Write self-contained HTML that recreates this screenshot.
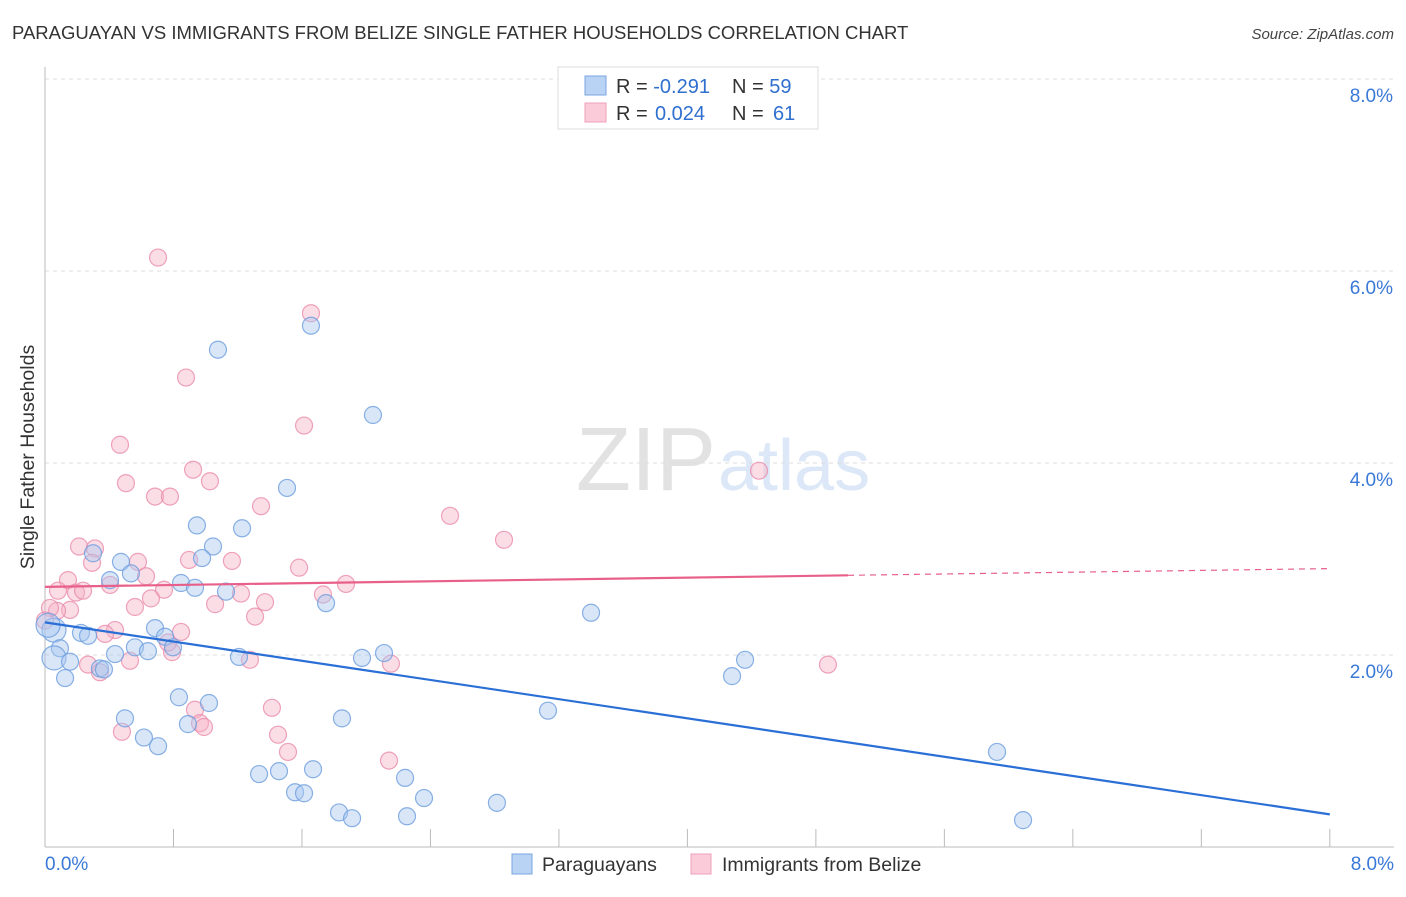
<!DOCTYPE html>
<html><head><meta charset="utf-8">
<style>
body{margin:0;background:#fff;font-family:"Liberation Sans",sans-serif;}
svg text{font-family:"Liberation Sans",sans-serif;}
</style></head>
<body>
<svg width="1406" height="892" viewBox="0 0 1406 892" xmlns="http://www.w3.org/2000/svg">
<text x="12" y="39" font-size="18.5" fill="#333">PARAGUAYAN VS IMMIGRANTS FROM BELIZE SINGLE FATHER HOUSEHOLDS CORRELATION CHART</text>
<text x="1394" y="39" font-size="15" fill="#444" text-anchor="end" font-style="italic">Source: ZipAtlas.com</text>
<text x="716" y="490" font-size="90" fill="#e2e2e2" text-anchor="end" font-family="Liberation Serif">ZIP</text>
<text x="718" y="490" font-size="72" fill="#dce8f7">atlas</text>
<g id="grid"></g>
<g id="axes"></g>
<g id="pts"></g>
<g id="trends"></g>
<text transform="translate(34,457) rotate(-90)" font-size="19.5" fill="#333" text-anchor="middle">Single Father Households</text>
<g>
<rect x="558" y="67" width="260" height="62" fill="#fff" stroke="#ddd"/>
<rect x="585" y="76" width="21" height="19" fill="#b9d3f5" stroke="#7aa6e0"/>
<rect x="585" y="103" width="21" height="19" fill="#fbcbd9" stroke="#eea0b8"/>
<text x="616" y="93" font-size="20" fill="#333">R = <tspan fill="#2f6fcf">-0.291</tspan><tspan x="732">N = </tspan><tspan fill="#2f6fcf">59</tspan></text>
<text x="616" y="120" font-size="20" fill="#333">R = <tspan fill="#2f6fcf" x="655">0.024</tspan><tspan x="732">N = </tspan><tspan fill="#2f6fcf" x="773">61</tspan></text>
</g>
<g>
<rect x="512" y="854" width="20" height="20" fill="#b9d3f5" stroke="#7aa6e0"/>
<text x="542" y="871" font-size="19.5" fill="#333">Paraguayans</text>
<rect x="691" y="854" width="20" height="20" fill="#fbcbd9" stroke="#eea0b8"/>
<text x="722" y="871" font-size="19.5" fill="#333">Immigrants from Belize</text>
</g>
</svg>
<script>
const xTicks=[0,0.8,1.6,2.4,3.2,4,4.8,5.6,6.4,7.2,8];
const yTicks=[2,4,6,8];
const yTickLabels=["2.0%","4.0%","6.0%","8.0%"];
const xTickLabels=["0.0%","8.0%"];
const blueX=[1.656,1.077,2.042,1.507,0.946,1.227,1.046,0.978,0.299,0.473,0.535,0.405,0.847,0.934,1.127,1.750,3.400,0.685,0.224,0.268,0.747,0.056,0.019,0.093,0.560,0.436,0.641,0.797,1.208,2.111,1.974,4.359,0.056,0.156,0.342,0.367,0.125,4.278,0.834,1.021,0.498,1.849,3.132,0.890,0.616,0.704,5.928,1.333,1.457,1.669,2.242,1.557,1.613,2.360,2.814,1.831,1.912,2.254,6.090];
const blueY=[5.43,5.18,4.50,3.74,3.35,3.32,3.13,3.01,3.06,2.97,2.85,2.78,2.75,2.70,2.66,2.54,2.44,2.28,2.23,2.20,2.19,2.26,2.31,2.07,2.08,2.01,2.04,2.08,1.98,2.02,1.97,1.95,1.97,1.93,1.86,1.85,1.76,1.78,1.56,1.50,1.34,1.34,1.42,1.28,1.14,1.05,0.99,0.76,0.79,0.81,0.72,0.57,0.56,0.51,0.46,0.36,0.30,0.32,0.28];
const pinkX=[0.704,1.656,0.878,1.613,0.467,0.922,4.446,0.504,1.027,0.685,0.778,1.345,2.522,2.858,0.212,0.311,0.897,1.164,0.579,0.293,1.582,0.629,0.143,1.874,0.405,0.081,0.741,0.193,0.237,1.220,1.731,0.660,1.370,1.059,0.560,0.156,0.075,0.031,1.308,0,0.847,0.436,0.374,0.791,0.268,1.276,4.875,2.154,0.342,0.529,0.934,1.413,0.965,0.990,1.451,0.479,1.513,2.142,0.766];
const pinkY=[6.14,5.56,4.89,4.39,4.19,3.93,3.92,3.79,3.81,3.65,3.65,3.55,3.45,3.20,3.13,3.11,2.99,2.98,2.97,2.96,2.91,2.82,2.78,2.74,2.73,2.67,2.68,2.65,2.67,2.64,2.63,2.59,2.55,2.53,2.50,2.47,2.46,2.49,2.40,2.36,2.24,2.26,2.22,2.03,1.90,1.95,1.90,1.91,1.82,1.94,1.43,1.45,1.29,1.25,1.17,1.20,0.99,0.90,2.13];
const blueTrend=[[0,2.34],[8,0.34]];
const pinkTrend=[[0,2.71],[5,2.83],[8,2.9]];
const X=v=>45+v*160.6, Y=v=>847-v*96;
const NS="http://www.w3.org/2000/svg";
function mk(p,t,a){const e=document.createElementNS(NS,t);for(const k in a)e.setAttribute(k,a[k]);p.appendChild(e);return e;}
const grid=document.getElementById('grid'),axes=document.getElementById('axes'),pts=document.getElementById('pts'),tr=document.getElementById('trends');
yTicks.forEach((t,i)=>{
 const l=mk(grid,'line',{x1:45,x2:1394,y1:Y(t),y2:Y(t),stroke:'#ddd','stroke-dasharray':'4,4'});
 
 
 const tx=mk(axes,'text',{x:1393,y:Y(t)+23,'font-size':19,fill:'#3a78d8','text-anchor':'end'});
 tx.textContent=yTickLabels[i];
 
 
});
const ax=mk(axes,'line',{x1:45,x2:1394,y1:847,y2:847,stroke:'#bbb'});


const ay=mk(axes,'line',{x1:45,x2:45,y1:67,y2:847,stroke:'#bbb'});


xTicks.forEach(t=>{const l=mk(axes,'line',{x1:X(t),x2:X(t),y1:829,y2:847,stroke:'#bbb'});
 
 });
[[0,'start',45],[8,'end',1394]].forEach((d,i)=>{const tx=mk(axes,'text',{x:d[2],y:870,'font-size':19,fill:'#3a78d8','text-anchor':d[1]});tx.textContent=xTickLabels[i];
 
 });
function dots(xs,ys,fill,stroke,name){xs.forEach((x,i)=>{const r=(x<0.07&&(ys[i]<2.35&&ys[i]>1.9))?12:8.5;
 const c=mk(pts,'circle',{cx:X(x),cy:Y(ys[i]),r:r,fill:fill,'fill-opacity':0.45,stroke:stroke,'stroke-width':1.2,'stroke-opacity':0.8});
 
 });}
dots(pinkX,pinkY,'#f7b3c7','#ea8cab','point-belize');
dots(blueX,blueY,'#a9c8f0','#6d9ddf','point-paraguayan');
const bl=mk(tr,'line',{x1:X(blueTrend[0][0]),y1:Y(blueTrend[0][1]),x2:X(blueTrend[1][0]),y2:Y(blueTrend[1][1]),stroke:'#2a6fd6','stroke-width':2.2});


const pl=mk(tr,'line',{x1:X(pinkTrend[0][0]),y1:Y(pinkTrend[0][1]),x2:X(pinkTrend[1][0]),y2:Y(pinkTrend[1][1]),stroke:'#e8608a','stroke-width':2.2});


const pd=mk(tr,'line',{x1:X(pinkTrend[1][0]),y1:Y(pinkTrend[1][1]),x2:X(pinkTrend[2][0]),y2:Y(pinkTrend[2][1]),stroke:'#e8608a','stroke-width':1.2,'stroke-dasharray':'6,5'});


</script>
</body></html>
